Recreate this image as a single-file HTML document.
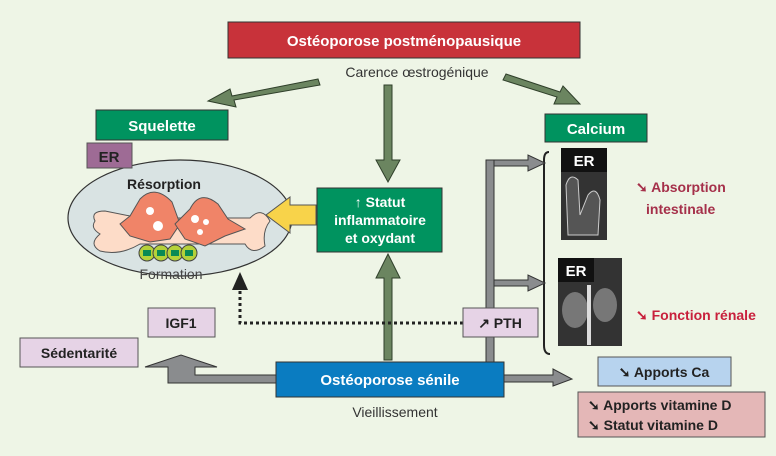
<!DOCTYPE html>
<html><head><meta charset="utf-8"><style>
body{margin:0;background:#eef5e6;}
svg{display:block;font-family:"Liberation Sans",sans-serif;}
.b{font-weight:bold;}
</style></head><body>
<svg width="776" height="456" viewBox="0 0 776 456">
<rect width="776" height="456" fill="#eef5e6"/>
<rect x="228" y="22" width="352" height="36" fill="#c8323a" stroke="#333" stroke-width="1"/>
<text x="404" y="46" text-anchor="middle" fill="#fff" class="b" font-size="15">Ostéoporose postménopausique</text>
<text x="417" y="77" text-anchor="middle" fill="#333" font-size="14">Carence œstrogénique</text>
<g fill="#6b8560" stroke="#2f3f2a" stroke-width="1">
<polygon points="318,79 232,96 230,89 208,101 236,107 234,100 320,85"/>
<polygon points="384,85 392,85 392,160 400,160 388,182 376,160 384,160"/>
<polygon points="506,74 560,92 563,86 580,104 554,104 557,97 503,80"/>
<polygon points="384,360 392,360 392,278 400,278 388,254 376,278 384,278"/>
</g>
<rect x="96" y="110" width="132" height="30" fill="#00935f" stroke="#333"/>
<text x="162" y="131" text-anchor="middle" fill="#fff" class="b" font-size="15">Squelette</text>
<ellipse cx="180" cy="218" rx="112" ry="58" fill="#d9e3e3" stroke="#333" stroke-width="1.2"/>
<rect x="87" y="143" width="45" height="25" fill="#9e6b95" stroke="#555"/>
<text x="109" y="162" text-anchor="middle" fill="#222" class="b" font-size="15">ER</text>
<text x="164" y="189" text-anchor="middle" fill="#222" class="b" font-size="14">Résorption</text>
<g transform="translate(0,6)">
<path d="M95,215 Q90,205 105,205 Q120,208 140,212 L250,212 Q262,200 270,215 Q262,225 265,240 Q252,250 245,238 L140,238 Q120,250 100,245 Q88,238 100,228 Q90,222 95,215Z" fill="#fddcc8" stroke="#555"/>
</g>
<g transform="translate(0,14)">
<path d="M120,210 L130,202 L140,185 Q155,170 172,188 L180,210 L170,225 L150,228 L130,222Z" fill="#f08468" stroke="#555"/>
<path d="M175,210 L190,195 Q200,175 218,190 L228,205 L245,215 L225,222 L205,232 L185,225Z" fill="#f08468" stroke="#555"/>
<g fill="#fff"><circle cx="150" cy="197" r="4"/><circle cx="158" cy="212" r="5"/><circle cx="195" cy="205" r="4"/><circle cx="206" cy="208" r="3"/><circle cx="200" cy="218" r="3"/></g>
</g>
<g fill="#b5d13a" stroke="#444"><circle cx="147" cy="253" r="8"/><circle cx="161" cy="253" r="8"/><circle cx="175" cy="253" r="8"/><circle cx="189" cy="253" r="8"/></g>
<g fill="#0a8a55"><rect x="143" y="250" width="8" height="6"/><rect x="157" y="250" width="8" height="6"/><rect x="171" y="250" width="8" height="6"/><rect x="185" y="250" width="8" height="6"/></g>
<text x="171" y="279" text-anchor="middle" fill="#444" font-size="14">Formation</text>
<polygon points="316,205 290,205 290,197 266,215 290,233 290,225 316,225" fill="#f8d34a" stroke="#555"/>
<rect x="317" y="188" width="125" height="64" fill="#00935f" stroke="#333"/>
<text fill="#fff" class="b" font-size="14" text-anchor="middle"><tspan x="380" y="207">↑ Statut</tspan><tspan x="380" y="225">inflammatoire</tspan><tspan x="380" y="243">et oxydant</tspan></text>
<rect x="545" y="114" width="102" height="28" fill="#00935f" stroke="#333"/>
<text x="596" y="134" text-anchor="middle" fill="#fff" class="b" font-size="15">Calcium</text>
<rect x="561" y="148" width="46" height="92" fill="#333"/>
<rect x="561" y="148" width="46" height="24" fill="#111"/>
<text x="584" y="166" text-anchor="middle" fill="#fff" class="b" font-size="15">ER</text>
<path d="M566,185 Q570,172 578,180 L580,215 L588,195 Q596,185 600,200 L598,235 L568,235Z" fill="#555" stroke="#ccc"/>
<rect x="558" y="258" width="64" height="88" fill="#333"/>
<rect x="558" y="258" width="36" height="24" fill="#111"/>
<text x="576" y="276" text-anchor="middle" fill="#fff" class="b" font-size="15">ER</text>
<ellipse cx="575" cy="310" rx="13" ry="18" fill="#777"/><ellipse cx="605" cy="305" rx="12" ry="17" fill="#777"/>
<rect x="587" y="285" width="4" height="60" fill="#ddd"/>
<path d="M549,152 Q544,152 544,160 L544,345 Q544,354 550,354" fill="none" stroke="#222" stroke-width="2"/>
<text fill="#a5304a" class="b" font-size="14"><tspan x="636" y="192">➘ Absorption</tspan><tspan x="646" y="214">intestinale</tspan></text>
<text x="636" y="320" fill="#c8203c" class="b" font-size="14">➘ Fonction rénale</text>
<g fill="#8a8c8e" stroke="#333" stroke-width="1">
<rect x="486" y="160" width="8" height="202"/>
<polygon points="494,160 528,160 528,155 545,163 528,171 528,166 494,166"/>
<polygon points="494,280 528,280 528,275 545,283 528,291 528,286 494,286"/>
<polygon points="504,375 553,375 553,369 572,379 553,386 553,382 504,382"/>
<polygon points="276,375 195,375 195,367 217,367 181,355 145,367 168,367 168,383 276,383"/>
</g>
<polyline points="240,285 240,323 463,323" fill="none" stroke="#222" stroke-width="3" stroke-dasharray="3,3"/>
<polygon points="240,272 232,290 248,290" fill="#222"/>
<rect x="463" y="308" width="75" height="29" fill="#e6d3e6" stroke="#555"/>
<text x="500" y="328" text-anchor="middle" fill="#222" class="b" font-size="14">↗ PTH</text>
<rect x="148" y="308" width="67" height="29" fill="#e6d3e6" stroke="#555"/>
<text x="181" y="328" text-anchor="middle" fill="#222" class="b" font-size="14">IGF1</text>
<rect x="20" y="338" width="118" height="29" fill="#e6d3e6" stroke="#555"/>
<text x="79" y="358" text-anchor="middle" fill="#222" class="b" font-size="14">Sédentarité</text>
<rect x="276" y="362" width="228" height="35" fill="#0a7cc1" stroke="#333"/>
<text x="390" y="385" text-anchor="middle" fill="#fff" class="b" font-size="15">Ostéoporose sénile</text>
<text x="395" y="417" text-anchor="middle" fill="#333" font-size="14">Vieillissement</text>
<rect x="598" y="357" width="133" height="29" fill="#b7d3ee" stroke="#555"/>
<text x="664" y="377" text-anchor="middle" fill="#222" class="b" font-size="14">➘ Apports Ca</text>
<rect x="578" y="392" width="187" height="45" fill="#e4b7b7" stroke="#555"/>
<text fill="#222" class="b" font-size="14"><tspan x="588" y="410">➘ Apports vitamine D</tspan><tspan x="588" y="430">➘ Statut vitamine D</tspan></text>
</svg>
</body></html>
